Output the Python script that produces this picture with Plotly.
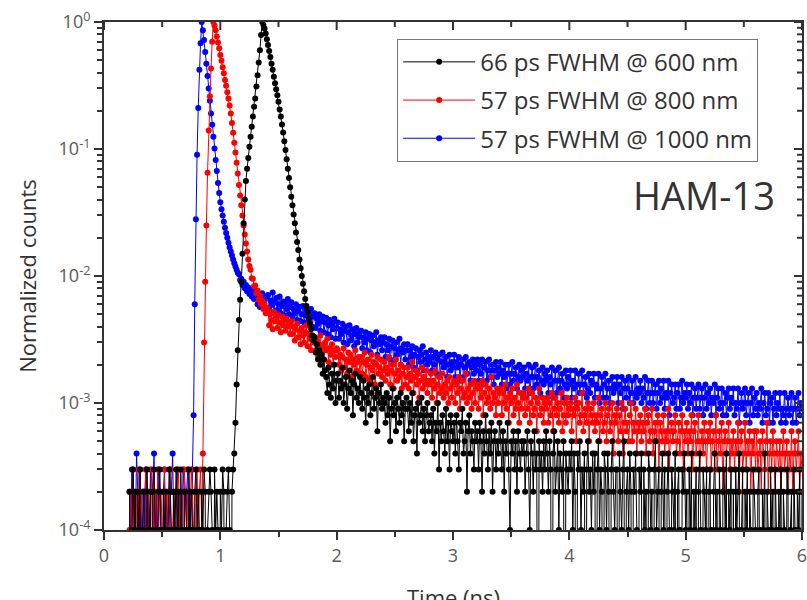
import numpy as np
import plotly.graph_objects as go

# Time-correlated photon counting histograms (counts per 10 ps bin), HAM-13.
T0 = 0.22   # ns, first bin
DT = 0.01   # ns, bin width

labels = ["66 ps FWHM @ 600 nm", "57 ps FWHM @ 800 nm", "57 ps FWHM @ 1000 nm"]
colors = ["#000000", "#ff0000", "#0000ff"]

counts_600 = [
    # background, 0.22-1.11 ns
    2, 0, 1, 3, 1, 2, 0, 2, 1, 3,
    0, 1, 2, 2, 0, 3, 1, 1, 2, 0,
    2, 3, 1, 0, 1, 2, 3, 1, 0, 2,
    1, 2, 0, 1, 3, 2, 1, 0, 2, 1,
    3, 1, 2, 0, 3, 1, 0, 2, 2, 1,
    0, 3, 1, 2, 1, 0, 2, 3, 1, 2,
    1, 0, 2, 1, 3, 2, 0, 1, 2, 3,
    2, 1, 0, 3, 1, 2, 1, 0, 2, 1,
    3, 2, 0, 1, 2, 3, 1, 0, 2, 3,
    # rise to the peak, 1.12-1.36 ns
    4, 7, 14, 26, 45, 65, 90, 150, 260, 400,
    560, 700, 850, 1040, 1250, 1500, 1800, 2150, 2500, 3100,
    3800, 4800, 6000, 7900, 10000,
    # fast decay, 1.37-1.90 ns
    9500, 8900, 8100, 7300, 6600, 5900, 5300, 4700, 4200, 3700,
    3300, 2950, 2650, 2350, 2050, 1800, 1560, 1350, 1150, 980,
    830, 700, 590, 500, 420, 360, 305, 260, 220, 185,
    160, 135, 115, 100, 87, 76, 66, 58, 52, 46,
    42, 38, 34, 31, 33, 25, 29, 22, 26, 20,
    24, 17, 22, 18,
    # slow tail, 1.91-6.00 ns
    16, 12, 19, 14, 11, 17, 13, 20, 10, 15,
    17, 11, 15, 13, 19, 10, 14, 16, 9, 13, 18, 12, 15, 8, 14, 17, 11, 13, 10, 16,
    12, 9, 15, 11, 7, 13, 10, 14, 8, 12, 16, 9, 11, 13, 6, 12, 10, 14, 9, 11,
    10, 7, 12, 8, 11, 5, 9, 13, 8, 10, 6, 11, 9, 7, 12, 8, 10, 5, 9, 11,
    9, 6, 10, 7, 12, 5, 8, 9, 4, 10, 7, 8, 11, 6, 9, 5, 8, 10, 6, 7,
    8, 5, 9, 4, 7, 6, 10, 3, 7, 5, 8, 6, 4, 9, 5, 7, 3, 8, 6, 5,
    7, 4, 8, 5, 3, 7, 6, 9, 4, 5, 7, 2, 6, 8, 4, 6, 5, 3, 7, 5,
    6, 3, 7, 5, 2, 6, 4, 8, 5, 3, 6, 4, 7, 2, 5, 6, 3, 5, 4, 7,
    5, 3, 6, 2, 5, 4, 7, 3, 1, 5, 4, 6, 3, 5, 2, 6, 4, 3, 5, 4,
    5, 2, 4, 6, 3, 1, 5, 4, 2, 6, 3, 4, 0, 5, 3, 4, 2, 5, 3, 6,
    4, 2, 5, 3, 0, 4, 6, 2, 3, 5, 1, 4, 3, 2, 5, 0, 4, 3, 2, 4,
    3, 5, 1, 4, 2, 0, 4, 3, 5, 1, 3, 2, 4, 0, 3, 5, 2, 3, 1, 4,
    2, 4, 0, 3, 5, 1, 3, 2, 0, 4, 3, 1, 4, 2, 0, 3, 5, 2, 1, 3,
    3, 0, 4, 2, 1, 3, 5, 0, 2, 3, 1, 4, 2, 0, 3, 2, 4, 1, 0, 3,
    2, 4, 0, 3, 1, 2, 0, 4, 3, 1, 2, 0, 3, 5, 1, 2, 3, 0, 2, 4,
    1, 3, 0, 2, 4, 1, 0, 3, 2, 1, 4, 0, 2, 3, 1, 0, 3, 2, 4, 1,
    2, 0, 3, 1, 4, 0, 2, 1, 3, 0, 2, 4, 1, 0, 3, 2, 1, 3, 0, 2,
    3, 1, 0, 2, 4, 1, 2, 0, 3, 1, 0, 2, 3, 1, 4, 0, 2, 1, 3, 0,
    2, 0, 3, 1, 2, 4, 0, 1, 3, 0, 2, 1, 3, 0, 2, 1, 0, 3, 2, 1,
    0, 2, 3, 1, 0, 2, 1, 4, 0, 2, 1, 0, 3, 1, 2, 0, 3, 1, 0, 2,
    1, 3, 0, 2, 1, 0, 3, 2, 0, 1, 2, 0, 3, 1, 0, 2, 1, 3, 0, 2,
]

counts_800 = [
    # background, 0.22-0.84 ns
    1, 2, 0, 3, 1, 2, 2, 0, 3, 1,
    2, 1, 0, 2, 3, 1, 2, 0, 1, 3,
    2, 1, 2, 0, 3, 1, 2, 2, 1, 0,
    3, 0, 2, 1, 2, 3, 0, 1, 2, 1,
    0, 2, 3, 1, 1, 2, 0, 3, 2, 1,
    2, 0, 1, 3, 2, 1, 0, 2, 3, 1,
    2, 3, 1,
    # rise to the peak, 0.85-0.94 ns
    4, 30, 90, 250, 650, 1400, 2600, 4300, 7000, 10000,
    # fast decay, 0.95-1.40 ns
    9400, 8600, 7700, 6900, 6200, 5500, 4950, 4400, 3950, 3500,
    3150, 2800, 2500, 2200, 1900, 1600, 1340, 1120, 940, 780,
    640, 520, 430, 360, 300, 250, 212, 180, 156, 135,
    120, 112, 96, 95, 83, 84, 73, 77, 65, 70,
    60, 64, 55, 60, 51, 56,
    # slow tail, 1.41-6.00 ns
    54, 41, 50, 45, 38, 52, 44, 47, 39, 49, 43, 36, 48, 41, 45, 37, 46, 40, 43, 35,
    44, 35, 40, 31, 38, 42, 33, 37, 29, 39, 34, 30, 36, 41, 28, 35, 32, 26, 34, 30,
    33, 26, 31, 23, 29, 34, 25, 28, 22, 30, 26, 32, 21, 27, 24, 29, 20, 26, 23, 27,
    26, 20, 24, 18, 23, 27, 19, 22, 17, 25, 21, 24, 16, 22, 20, 26, 18, 21, 23, 17,
    23, 17, 21, 25, 16, 20, 22, 15, 19, 24, 18, 21, 14, 20, 23, 17, 19, 22, 16, 18,
    21, 15, 19, 17, 23, 14, 18, 20, 13, 17, 22, 15, 18, 16, 20, 13, 17, 19, 14, 16,
    19, 13, 17, 15, 21, 12, 16, 18, 14, 17, 11, 15, 19, 13, 16, 14, 18, 12, 15, 14,
    17, 11, 15, 13, 18, 10, 14, 16, 12, 13, 17, 11, 14, 12, 15, 10, 16, 13, 11, 14,
    15, 10, 14, 12, 16, 9, 13, 15, 11, 12, 17, 10, 13, 11, 14, 9, 12, 15, 10, 13,
    14, 9, 13, 11, 15, 8, 12, 14, 10, 11, 13, 9, 16, 10, 12, 11, 8, 13, 10, 12,
    13, 8, 12, 10, 14, 9, 11, 7, 12, 10, 13, 8, 11, 9, 14, 10, 7, 12, 9, 11,
    12, 8, 11, 9, 13, 7, 10, 12, 8, 9, 11, 6, 10, 13, 8, 9, 11, 7, 10, 9,
    11, 7, 10, 8, 12, 6, 9, 11, 8, 10, 7, 9, 12, 6, 8, 10, 7, 11, 8, 9,
    10, 6, 9, 8, 11, 5, 9, 10, 7, 8, 12, 6, 8, 9, 7, 10, 5, 9, 8, 7,
    10, 6, 8, 7, 11, 5, 8, 9, 6, 7, 10, 5, 8, 9, 6, 7, 10, 4, 8, 7,
    9, 5, 8, 6, 10, 4, 7, 9, 6, 7, 5, 8, 10, 5, 7, 6, 9, 4, 7, 6,
    8, 5, 7, 6, 9, 4, 7, 8, 5, 6, 9, 4, 6, 7, 5, 8, 3, 7, 6, 5,
    8, 4, 6, 5, 9, 3, 6, 7, 5, 6, 8, 4, 5, 7, 4, 6, 8, 3, 6, 5,
    7, 4, 6, 5, 8, 3, 6, 7, 4, 5, 8, 3, 5, 6, 4, 7, 5, 3, 6, 5,
    7, 3, 5, 6, 4, 8, 3, 5, 6, 4, 7, 2, 5, 6, 4, 5, 7, 3, 5, 4,
    6, 3, 5, 4, 7, 2, 5, 6, 3, 4, 7, 3, 5, 4, 6, 2, 5, 4, 6, 3,
    6, 3, 4, 5, 2, 6, 4, 3, 5, 7, 2, 4, 5, 3, 6, 4, 2, 5, 4, 3,
    5, 2, 4, 6, 3, 4, 5, 2, 4, 3, 6, 2, 4, 5, 3, 4, 6, 2, 4, 3,
]

counts_1000 = [
    # background, 0.22-0.76 ns
    2, 1, 3, 0, 2, 1, 4, 2, 0, 3,
    1, 2, 2, 0, 3, 1, 2, 1, 3, 0,
    2, 4, 1, 2, 0, 3, 2, 1, 0, 2,
    3, 1, 2, 0, 1, 3, 2, 4, 1, 0,
    2, 3, 1, 2, 0, 1, 3, 2, 0, 2,
    3, 1, 2, 0, 3,
    # rise to the peak, 0.77-0.84 ns
    8, 60, 280, 900, 2100, 4200, 6800, 10000,
    # fast decay, 0.85-1.30 ns
    8600, 7200, 5800, 4700, 3750, 3000, 2400, 1900, 1550, 1250,
    1010, 820, 670, 540, 450, 380, 335, 300, 268, 240,
    218, 200, 183, 168, 156, 145, 135, 126, 119, 112,
    106, 103, 93, 95, 85, 90, 80, 85, 76, 81,
    72, 78, 69, 75, 66, 72,
    # slow tail, 1.31-6.00 ns
    75, 60, 70, 57, 68, 73, 59, 66, 55, 69,
    71, 56, 64, 59, 74, 52, 62, 67, 54, 60, 69, 51, 58, 63, 49, 61, 55, 66, 50, 57,
    62, 48, 55, 51, 60, 45, 53, 57, 44, 50, 58, 43, 49, 54, 41, 52, 47, 55, 40, 48,
    51, 39, 46, 42, 50, 37, 44, 48, 36, 43, 47, 35, 41, 45, 33, 42, 38, 46, 32, 39,
    43, 32, 38, 35, 42, 30, 37, 40, 29, 36, 41, 31, 34, 38, 28, 35, 39, 30, 33, 36,
    37, 27, 33, 30, 36, 26, 32, 35, 25, 31, 34, 28, 30, 36, 24, 31, 29, 33, 26, 30,
    33, 23, 29, 26, 32, 22, 28, 31, 21, 27, 30, 24, 26, 32, 20, 27, 25, 29, 22, 26,
    29, 20, 26, 23, 28, 19, 24, 27, 18, 23, 26, 21, 24, 28, 18, 22, 25, 20, 23, 21,
    26, 18, 23, 20, 25, 17, 22, 24, 16, 21, 25, 19, 21, 23, 16, 20, 24, 18, 21, 19,
    24, 16, 21, 19, 23, 15, 20, 22, 16, 19, 23, 17, 20, 21, 15, 19, 22, 17, 20, 18,
    22, 15, 20, 17, 22, 14, 19, 21, 15, 18, 22, 16, 18, 20, 14, 18, 21, 16, 19, 17,
    21, 14, 18, 16, 20, 13, 17, 20, 14, 17, 21, 15, 17, 19, 13, 16, 20, 15, 18, 16,
    19, 13, 17, 15, 20, 12, 16, 19, 13, 16, 20, 14, 16, 18, 12, 15, 19, 14, 17, 15,
    18, 12, 16, 14, 19, 11, 15, 18, 12, 15, 19, 13, 15, 17, 11, 14, 18, 13, 16, 14,
    18, 11, 15, 13, 18, 10, 14, 17, 12, 14, 18, 12, 14, 16, 11, 13, 17, 12, 15, 14,
    17, 11, 14, 13, 17, 10, 13, 16, 11, 14, 17, 11, 13, 15, 10, 13, 16, 12, 14, 13,
    16, 10, 14, 12, 16, 9, 13, 15, 11, 13, 16, 10, 12, 15, 10, 12, 16, 11, 13, 12,
    15, 10, 13, 11, 16, 9, 12, 15, 10, 12, 15, 10, 12, 14, 9, 12, 15, 10, 13, 11,
    15, 9, 12, 11, 15, 8, 12, 14, 10, 11, 14, 9, 12, 14, 9, 11, 15, 10, 12, 11,
    14, 9, 12, 10, 14, 8, 11, 13, 9, 11, 14, 9, 11, 13, 8, 11, 14, 9, 12, 10,
    13, 8, 11, 10, 14, 8, 11, 13, 9, 10, 13, 8, 10, 12, 8, 11, 13, 9, 11, 10,
    13, 8, 10, 9, 13, 7, 10, 12, 9, 10, 13, 8, 10, 12, 7, 10, 13, 8, 11, 9,
    12, 8, 10, 9, 13, 7, 10, 12, 8, 9, 12, 7, 10, 11, 7, 9, 12, 8, 10, 9,
    12, 7, 9, 8, 12, 7, 9, 11, 8, 9, 12, 7, 9, 11, 7, 9, 12, 8, 10, 9,
]

series = [counts_600, counts_800, counts_1000]

x_ticks = [0, 1, 2, 3, 4, 5, 6]
x_minor = [0.5, 1.5, 2.5, 3.5, 4.5, 5.5]
y_decades = [-4, -3, -2, -1, 0]
y_ticktext = ["10<sup>%d</sup>" % e for e in y_decades]

FONT = "Open Sans"
AXIS_COLOR = "#333333"
TICK_FONT = dict(family=FONT, size=18, color="#5a5a5a")
ZERO_FLOOR = 1e-7  # empty bins are drawn down past the bottom of the log axis

W, H = 807, 600
M = dict(l=104, r=5, t=22, b=70)
PLOT_W = W - M["l"] - M["r"]
PLOT_H = H - M["t"] - M["b"]
X_RANGE = [0, 6]
Y_RANGE = [-4, 0]
MAJOR_LEN, MINOR_LEN, TICK_W = 8, 5, 2

fig = go.Figure()

# 1000 nm first, 600 nm last so it sits on top of the overlay
for idx in [2, 1, 0]:
    c = np.asarray(series[idx], dtype=float)
    t = T0 + DT * np.arange(len(c))
    norm = np.where(c > 0, c / c.max(), ZERO_FLOOR)
    fig.add_trace(go.Scatter(
        x=t, y=norm, name=labels[idx], mode="lines+markers",
        line=dict(color=colors[idx], width=1),
        marker=dict(color=colors[idx], size=6),
        legendgroup=labels[idx], legendrank=idx + 1,
    ))

minor_y = [m * 10.0 ** e for e in y_decades[:-1] for m in range(2, 10)]
major_y = [10.0 ** e for e in y_decades]

# inward ticks on the top and right frame edges
tick_line = dict(color=AXIS_COLOR, width=TICK_W)
frame_ticks = []
for xv, ln in [(v, MAJOR_LEN) for v in x_ticks] + [(v, MINOR_LEN) for v in x_minor]:
    px = (xv - X_RANGE[0]) / (X_RANGE[1] - X_RANGE[0])
    frame_ticks.append(dict(type="line", xref="paper", yref="paper", layer="above",
                            x0=px, x1=px, y0=1, y1=1 - ln / PLOT_H, line=tick_line))
for yv, ln in [(v, MAJOR_LEN) for v in major_y] + [(v, MINOR_LEN) for v in minor_y]:
    py = float((np.log10(yv) - Y_RANGE[0]) / (Y_RANGE[1] - Y_RANGE[0]))
    frame_ticks.append(dict(type="line", xref="paper", yref="paper", layer="above",
                            x0=1, x1=1 - ln / PLOT_W, y0=py, y1=py, line=tick_line))

axis_common = dict(showgrid=False, zeroline=False, showline=True, mirror=True,
                   linecolor=AXIS_COLOR, linewidth=2, tickcolor=AXIS_COLOR,
                   tickwidth=TICK_W, automargin=False, ticklabeloverflow="allow")

fig.update_layout(
    width=W, height=H,
    margin=M,
    paper_bgcolor="white", plot_bgcolor="white",
    font=dict(family=FONT, color="#333333"),
    xaxis=dict(range=X_RANGE, tickmode="array", tickvals=x_ticks,
               ticks="outside", ticklen=MAJOR_LEN, tickfont=TICK_FONT,
               minor=dict(tickmode="array", tickvals=x_minor, ticks="outside",
                          ticklen=MINOR_LEN, tickcolor=AXIS_COLOR, tickwidth=TICK_W),
               **axis_common),
    yaxis=dict(type="log", range=Y_RANGE, tickmode="array",
               tickvals=major_y, ticktext=y_ticktext,
               ticks="outside", ticklen=MAJOR_LEN, tickfont=TICK_FONT,
               minor=dict(tickmode="array", tickvals=minor_y, ticks="outside",
                          ticklen=MINOR_LEN, tickcolor=AXIS_COLOR, tickwidth=TICK_W),
               title=dict(text="Normalized counts", font=dict(family=FONT, size=22, color="#333333"),
                          standoff=16),
               **axis_common),
    shapes=frame_ticks,
    legend=dict(x=0.42, y=0.967, xanchor="left", yanchor="top",
                bgcolor="white", bordercolor="#777777", borderwidth=1,
                font=dict(family=FONT, size=24, color="#333333"),
                traceorder="grouped", tracegroupgap=4,
                itemwidth=72, indentation=0),
    showlegend=True,
)

# x-axis title sits low enough that the page edge trims its lower part
fig.add_annotation(text="Time (ns)", xref="paper", yref="paper", x=0.5, y=-0.131,
                   xanchor="center", yanchor="middle", showarrow=False,
                   font=dict(family=FONT, size=22, color="#333333"))

fig.add_annotation(text="HAM-13", xref="paper", yref="paper", x=0.86, y=0.66,
                   xanchor="center", yanchor="middle",
                   showarrow=False, font=dict(family=FONT, size=38, color="#333333"))

fig.write_html("out.html")
